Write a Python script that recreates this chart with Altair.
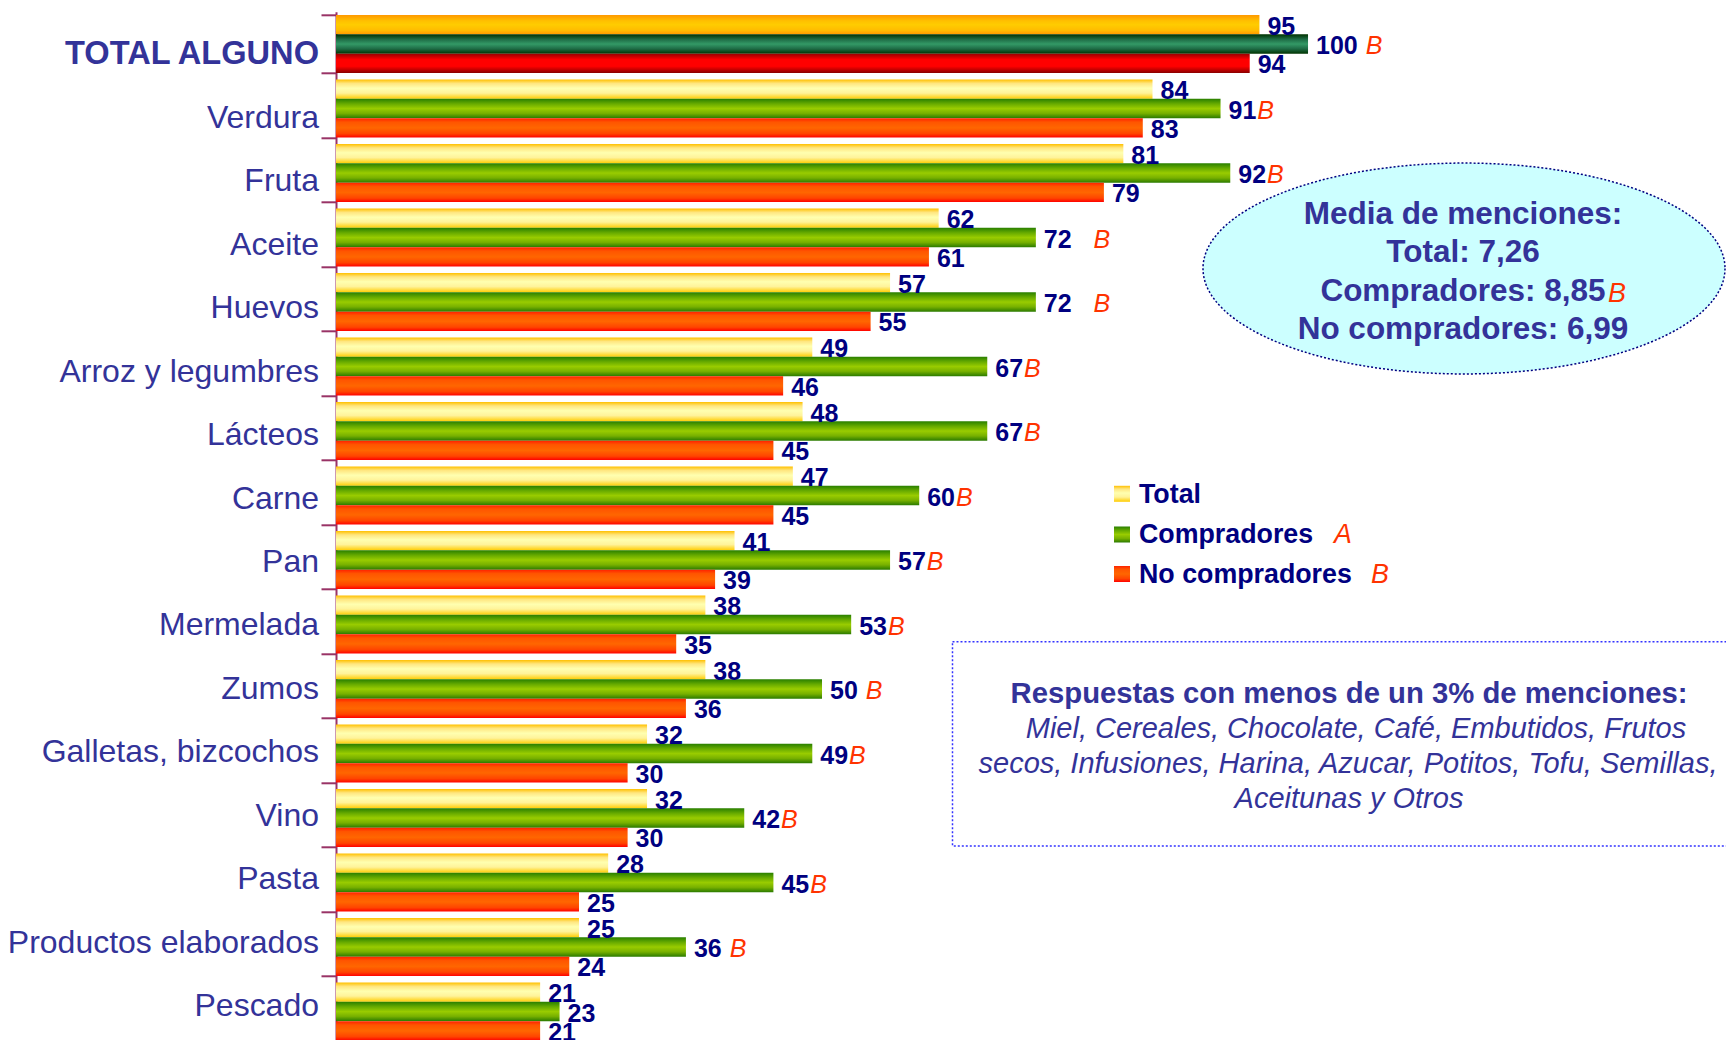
import altair as alt
import pandas as pd

# ---------------- data ----------------
categories = ["TOTAL ALGUNO", "Verdura", "Fruta", "Aceite", "Huevos", "Arroz y legumbres",
              "Lácteos", "Carne", "Pan", "Mermelada", "Zumos", "Galletas, bizcochos",
              "Vino", "Pasta", "Productos elaborados", "Pescado"]
total = [95, 84, 81, 62, 57, 49, 48, 47, 41, 38, 38, 32, 32, 28, 25, 21]
compradores = [100, 91, 92, 72, 72, 67, 67, 60, 57, 53, 50, 49, 42, 45, 36, 23]
no_compradores = [94, 83, 79, 61, 55, 46, 45, 45, 39, 35, 36, 30, 30, 25, 24, 21]
ZW = "\u200b"
NB = "\u00a0"
marca_compradores = [ZW + NB + "B", "B", "B", ZW + NB * 3 + "B", ZW + NB * 3 + "B", "B", "B",
                     "B", "B", "B", ZW + NB + "B", "B", "B", "B", ZW + NB + "B", ""]
series = ["Total", "Compradores", "No compradores"]
legend_marks = ["", "A", "B"]
ellipse_lines = ["Media de menciones:", "Total: 7,26", "Compradores: 8,85", "No compradores: 6,99"]
ellipse_marks = ["", "", "B", ""]
box_title = "Respuestas con menos de un 3% de menciones:"
box_lines = ["Miel, Cereales, Chocolate, Café, Embutidos, Frutos",
             "secos, Infusiones, Harina, Azucar, Potitos, Tofu, Semillas,",
             "Aceitunas y Otros"]

rows = []
for i, cat in enumerate(categories):
    for s, vals in zip(series, [total, compradores, no_compradores]):
        rows.append({"cat": cat, "serie": s, "valor": vals[i],
                     "marca": marca_compradores[i] if s == "Compradores" else ""})
df = pd.DataFrame(rows)
df_cats = pd.DataFrame({"cat": categories, "idx": list(range(len(categories)))})

# ---------------- layout ----------------
W, H = 1390, 1028
STEP = 64.5
XMAX = 143
PX = W / XMAX
FONT = "Liberation Sans"
LABEL_BLUE = "#333399"
NAVY = "#000080"
MARK_RED = "#FF3300"


def grad(stops):
    return alt.LinearGradient(
        gradient="linear",
        stops=[alt.GradientStop(color=c, offset=o) for o, c in stops],
        x1=0, x2=0, y1=0, y2=1)


g_regular = {
    "Total": grad([(0, "#FFC000"), (0.2, "#FFE680"), (0.45, "#FFFFB0"), (0.7, "#FFF39A"), (1, "#FFCC00")]),
    "Compradores": grad([(0, "#2A8000"), (0.25, "#66AA00"), (0.5, "#99CC00"), (0.75, "#77B000"), (1, "#2A7A00")]),
    "No compradores": grad([(0, "#FF2200"), (0.2, "#FF5500"), (0.5, "#FF6600"), (0.8, "#FF4400"), (1, "#FF0000")]),
}
g_special = {
    "Total": grad([(0, "#FF9900"), (0.3, "#FFC000"), (0.5, "#FFCC00"), (0.8, "#FFBB00"), (1, "#FF9900")]),
    "Compradores": grad([(0, "#003300"), (0.25, "#1E6B45"), (0.5, "#339966"), (0.75, "#1E6B45"), (1, "#003300")]),
    "No compradores": grad([(0, "#990000"), (0.3, "#FF0000"), (0.65, "#FF0000"), (1, "#880000")]),
}

n = len(categories)
y_enc = alt.Y(
    "cat:N", sort=categories, title=None,
    scale=alt.Scale(domain=categories, paddingInner=0.1, paddingOuter=0.05,
                    range=[0, STEP * n]),
    axis=alt.Axis(
        domainColor="#993366", domainWidth=2, tickColor="#993366", tickWidth=2,
        tickSize=15, tickBand="extent", labels=False,
    ),
)
yoff_enc = alt.YOffset("serie:N", sort=series, scale=alt.Scale(paddingInner=0, paddingOuter=0))
x_scale = alt.Scale(domain=[0, XMAX], nice=False, zero=True)
x_enc = alt.X("valor:Q", scale=x_scale, axis=None)

base = alt.Chart(df)
inner = []
for s in series:
    inner.append(base.transform_filter(
        f"datum.serie == '{s}' && datum.cat != 'TOTAL ALGUNO'"
    ).mark_bar(color=g_regular[s], strokeWidth=0).encode(x=x_enc, y=y_enc, yOffset=yoff_enc))
    inner.append(base.transform_filter(
        f"datum.serie == '{s}' && datum.cat == 'TOTAL ALGUNO'"
    ).mark_bar(color=g_special[s], strokeWidth=0).encode(x=x_enc, y=y_enc, yOffset=yoff_enc))

# value labels
inner.append(base.mark_text(
    align="left", baseline="middle", dx=8, dy=2, font=FONT, fontSize=25,
    fontWeight="bold", color=NAVY
).encode(x=x_enc, y=y_enc, yOffset=yoff_enc, text=alt.Text("valor:Q")))

# significance markers after the numbers
inner.append(base.transform_filter("datum.marca != ''").transform_calculate(
    bx=f"datum.valor + (9 + length(toString(datum.valor)) * 13.9) / {PX}"
).mark_text(
    align="left", baseline="middle", dy=2, font=FONT, fontSize=25,
    fontStyle="italic", fontWeight="normal", color=MARK_RED
).encode(x=alt.X("bx:Q", scale=x_scale, axis=None),
         y=y_enc, yOffset=yoff_enc, text="marca:N"))

bars = alt.layer(*inner)

# category labels (own vertical spacing, as in the original)
lab_y = alt.Y("idx:Q", axis=None,
              scale=alt.Scale(domain=[0, n - 1], range=[42.3, 994.6], nice=False, zero=False))
cat_base = alt.Chart(df_cats)
labels = alt.layer(
    cat_base.transform_filter("datum.cat != 'TOTAL ALGUNO'").mark_text(
        align="right", baseline="middle", font=FONT, fontSize=32, color=LABEL_BLUE
    ).encode(x=alt.value(-17), y=lab_y, text="cat:N"),
    cat_base.transform_filter("datum.cat == 'TOTAL ALGUNO'").mark_text(
        align="right", baseline="middle", font=FONT, fontSize=32.6, fontWeight="bold",
        color=LABEL_BLUE
    ).encode(x=alt.value(-17), y=lab_y, text="cat:N"),
)

one = alt.Chart(pd.DataFrame({"k": [0]}))
ann = []

# ellipse
k = 0.404
c = 0.5523
path = (f"M 1 0 C 1 {k*c:.4f} {c} {k} 0 {k} C {-c} {k} -1 {k*c:.4f} -1 0 "
        f"C -1 {-k*c:.4f} {-c} {-k} 0 {-k} C {c} {-k} 1 {-k*c:.4f} 1 0 Z")
ann.append(one.mark_point(
    shape=path, size=522 ** 2, filled=True, fill="#CCFFFF", stroke="#000080",
    strokeWidth=1.5, strokeDash=[2, 2], opacity=1, fillOpacity=1, strokeOpacity=1
).encode(x=alt.value(1128), y=alt.value(256.7)))

ell_y = [202.9, 241.4, 279.9, 318.4]
for i, line in enumerate(ellipse_lines):
    ann.append(one.mark_text(
        text=line, align="center", baseline="middle", font=FONT, fontSize=31.5,
        fontWeight="bold", color=LABEL_BLUE
    ).encode(x=alt.value(1127), y=alt.value(ell_y[i])))
    if ellipse_marks[i]:
        ann.append(one.mark_text(
            text=ellipse_marks[i], align="left", baseline="middle", font=FONT, fontSize=27,
            fontStyle="italic", color=MARK_RED
        ).encode(x=alt.value(1272), y=alt.value(ell_y[i] + 2)))

# legend
leg_y = [483.0, 523.7, 563.2]
mark_x = [None, 998, 1035]
for i, s in enumerate(series):
    ann.append(one.mark_rect(color=g_regular[s]).encode(
        x=alt.value(778), x2=alt.value(794),
        y=alt.value(leg_y[i] - 9), y2=alt.value(leg_y[i] + 7)))
    ann.append(one.mark_text(
        text=s, align="left", baseline="middle", font=FONT, fontSize=26.8,
        fontWeight="bold", color=NAVY
    ).encode(x=alt.value(803), y=alt.value(leg_y[i])))
    if legend_marks[i]:
        ann.append(one.mark_text(
            text=legend_marks[i], align="left", baseline="middle", font=FONT, fontSize=26.8,
            fontStyle="italic", color=MARK_RED
        ).encode(x=alt.value(mark_x[i]), y=alt.value(leg_y[i])))

# text box
ann.append(one.mark_rect(
    fillOpacity=0, stroke="#3333FF", strokeWidth=1.5, strokeDash=[2, 2]
).encode(x=alt.value(616.5), x2=alt.value(1400), y=alt.value(629.9), y2=alt.value(834.2)))
ann.append(one.mark_text(
    text=box_title, align="center", baseline="middle", font=FONT, fontSize=29.3,
    fontWeight="bold", color=LABEL_BLUE
).encode(x=alt.value(1013), y=alt.value(682.7)))
box_y = [717.2, 752.2, 787.2]
box_x = [1020, 1012, 1013]
for i, line in enumerate(box_lines):
    ann.append(one.mark_text(
        text=line, align="center", baseline="middle", font=FONT, fontSize=29,
        fontStyle="italic", color=LABEL_BLUE
    ).encode(x=alt.value(box_x[i]), y=alt.value(box_y[i])))

chart = alt.layer(bars, labels, *ann).resolve_scale(y="independent").properties(
    width=W, height=H,
    autosize=alt.AutoSizeParams(type="none"),
    padding={"left": 336, "top": 11.8, "right": 0, "bottom": 0},
    background="white",
).configure_view(stroke=None)

chart.save("out.html", embed_options={"renderer": "svg", "actions": False})
